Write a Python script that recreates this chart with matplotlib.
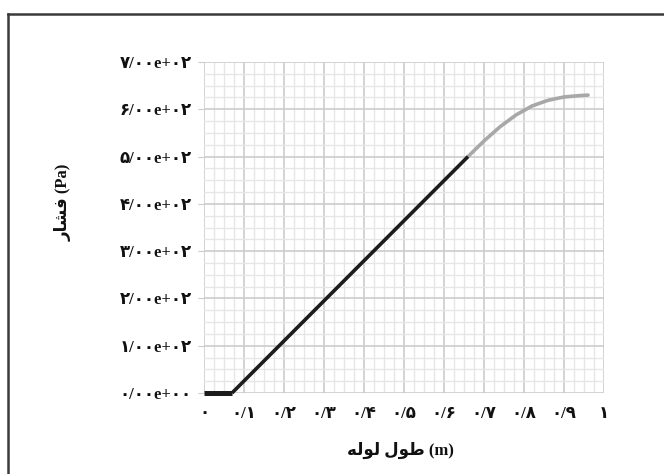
import matplotlib
matplotlib.use("Agg")
import matplotlib.pyplot as plt
from matplotlib.lines import Line2D
from matplotlib.ticker import MultipleLocator, FixedLocator, FixedFormatter

# ---- data ----
flat_x = [0.0, 0.07]
flat_y = [0, 0]
lin_x = [0.07, 0.66]
lin_y = [0, 500]
curve_x = [0.66, 0.70, 0.74, 0.78, 0.82, 0.86, 0.90, 0.94, 0.96]
curve_y = [500, 533, 563, 588, 607, 619, 626, 629, 630]

fa = str.maketrans("0123456789", "۰۱۲۳۴۵۶۷۸۹")
x_ticks = [0, 0.1, 0.2, 0.3, 0.4, 0.5, 0.6, 0.7, 0.8, 0.9, 1.0]
x_labels = ["0", "0/1", "0/2", "0/3", "0/4", "0/5", "0/6", "0/7", "0/8", "0/9", "1"]
y_ticks = [0, 100, 200, 300, 400, 500, 600, 700]
y_labels = ["0/00e+00", "1/00e+02", "2/00e+02", "3/00e+02", "4/00e+02",
            "5/00e+02", "6/00e+02", "7/00e+02"]
x_labels = [s.translate(fa) for s in x_labels]
y_labels = [s.translate(fa) for s in y_labels]

# visual (pre-shaped, left-to-right) forms of the Persian axis titles
x_title = "\uFEEA\uFEDF\uFEEE\uFEDF" + " " + "\uFEDD\uFEEE\uFEC3" + " (m)"
y_title = "\uFEAD\uFE8E\uFEB8\uFED3" + " (Pa)"

FAM = ["Liberation Serif", "DejaVu Sans"]

W, H = 664, 474
fig = plt.figure(figsize=(W / 100, H / 100), dpi=100)
fig.patch.set_facecolor("white")

ax = fig.add_axes([204 / W, 1 - 393 / H, 400 / W, 331 / H])
ax.set_xlim(0, 1.0)
ax.set_ylim(0, 700)
for s in ax.spines.values():
    s.set_visible(False)

ax.xaxis.set_major_locator(FixedLocator(x_ticks))
ax.xaxis.set_major_formatter(FixedFormatter(x_labels))
ax.yaxis.set_major_locator(FixedLocator(y_ticks))
ax.yaxis.set_major_formatter(FixedFormatter(y_labels))
ax.xaxis.set_minor_locator(MultipleLocator(0.025))
ax.yaxis.set_minor_locator(MultipleLocator(25))

ax.grid(which="major", color="#cccccc", linewidth=1.2)
ax.grid(which="minor", color="#e6e6e6", linewidth=1.0)
ax.set_axisbelow(True)
ax.tick_params(which="both", length=0)
ax.tick_params(axis="y", which="major", length=4, color="#cccccc", pad=5)
ax.tick_params(axis="x", which="major", pad=9)

for lab in ax.get_xticklabels() + ax.get_yticklabels():
    lab.set_family(FAM)
    lab.set_fontweight("bold")
    lab.set_fontsize(12)
    lab.set_color("#111111")

ax.plot(curve_x, curve_y, color="#a8a8a8", linewidth=2.6, solid_capstyle="round", clip_on=False)
ax.plot(lin_x, lin_y, color="#1c1c1c", linewidth=2.6, solid_capstyle="butt", clip_on=False)
ax.plot(flat_x, flat_y, color="#1c1c1c", linewidth=3.6, solid_capstyle="butt", clip_on=False)

fig.text(400 / W, 1 - 450 / H, x_title, family=FAM, fontweight="bold", fontsize=12,
         ha="center", va="center", color="#111111")
fig.text(63 / W, 1 - 202 / H, y_title, family=FAM, fontweight="bold", fontsize=12,
         ha="center", va="center", rotation=90, color="#111111")

# outer frame (left and top edges visible)
fig.add_artist(Line2D([7.5 / W, 7.5 / W], [0, 1 - 13.5 / H], transform=fig.transFigure,
                      color="#3a3a3a", linewidth=1.8))
fig.add_artist(Line2D([7.5 / W, 1], [1 - 13.5 / H, 1 - 13.5 / H], transform=fig.transFigure,
                      color="#3a3a3a", linewidth=1.8))

fig.savefig("out.png", dpi=100)
